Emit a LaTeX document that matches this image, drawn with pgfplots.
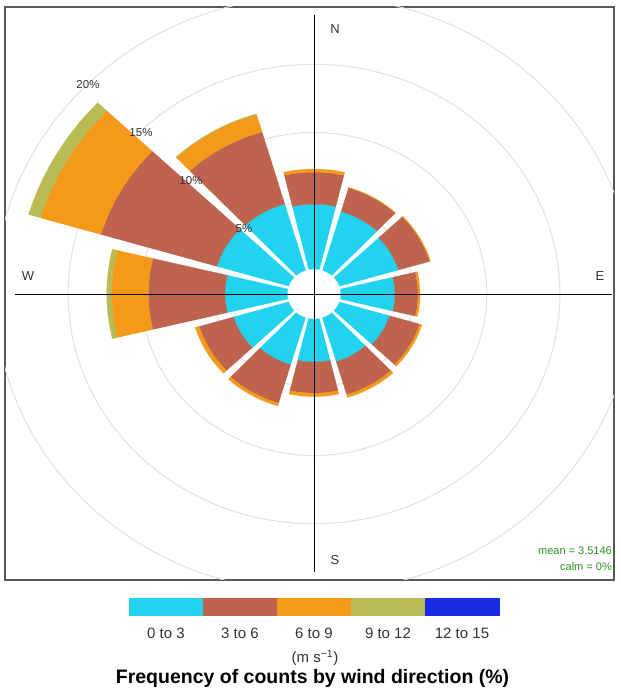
\documentclass[border=0pt]{standalone}
\usepackage{pgfplots}
\pgfplotsset{compat=1.18}
\usepackage{pgfplotstable}
\usepackage{fontspec}
\setmainfont{Liberation Sans}

\definecolor{c1}{HTML}{21D3EE}
\definecolor{c2}{HTML}{BD634E}
\definecolor{c3}{HTML}{F5991B}
\definecolor{c4}{HTML}{B9BC54}
\definecolor{c5}{HTML}{1A2DE6}
\definecolor{gtxt}{HTML}{333333}
\definecolor{meancol}{HTML}{2E8B22}

% arc template: t = relative angle (-1..1), s = 1 outer arc, 0 inner arc
\pgfplotstableread{
t s
-1 1
-0.8 1
-0.6 1
-0.4 1
-0.2 1
0 1
0.2 1
0.4 1
0.6 1
0.8 1
1 1
1 0
0.6 0
0.2 0
-0.2 0
-0.6 0
-1 0
}\arcpts

\def\off{1.83}% central hole (in % units)
\def\hw{13.6}% half angular width of a wedge
\def\gp{0.06}% half width of the straight gap

\newcommand{\windwedge}[4]{%
 \addplot[fill=#4, draw=#4, line width=0.2pt, forget plot] table[
   x expr={(\off+#2+\thisrow{s}*(#3-#2))*sin(#1+\thisrow{t}*(\hw-asin(\gp/(\off+#2+\thisrow{s}*(#3-#2)))))},
   y expr={(\off+#2+\thisrow{s}*(#3-#2))*cos(#1+\thisrow{t}*(\hw-asin(\gp/(\off+#2+\thisrow{s}*(#3-#2)))))}
 ] {\arcpts};}

% direction, frequency (%) of 0-3, 3-6, 6-9, 9-12 m/s
\newcommand{\winddir}[5]{%
  \pgfmathsetmacro\cA{#2}%
  \pgfmathsetmacro\cB{#2+#3}%
  \pgfmathsetmacro\cC{#2+#3+#4}%
  \pgfmathsetmacro\cD{#2+#3+#4+#5}%
  \edef\next{\noexpand\windwedge{#1}{0}{\cA}{c1}}\next
  \ifdim #3pt>0pt \edef\next{\noexpand\windwedge{#1}{\cA}{\cB}{c2}}\next\fi
  \ifdim #4pt>0pt \edef\next{\noexpand\windwedge{#1}{\cB}{\cC}{c3}}\next\fi
  \ifdim #5pt>0pt \edef\next{\noexpand\windwedge{#1}{\cC}{\cD}{c4}}\next\fi
}

\begin{document}
\begin{tikzpicture}
\path (0pt,0pt) rectangle (621pt,696pt);
\begin{axis}[
  at={(5pt,116pt)}, anchor=south west,
  width=609pt, height=573pt, scale only axis,
  xmin=-21.15, xmax=20.53, ymin=-20.95, ymax=21.03,
  xtick=\empty, ytick=\empty,
  axis line style={draw=black!65, line width=1.3pt},
  clip=true,
]
% grid circles (5, 10, 15, 20 %)
\draw[black!12, line width=1pt] (axis cs:0,0) ellipse[x radius=99.8pt, y radius=93.2pt];
\draw[black!12, line width=1pt] (axis cs:0,0) ellipse[x radius=172.8pt, y radius=161.5pt];
\draw[black!12, line width=1pt] (axis cs:0,0) ellipse[x radius=245.9pt, y radius=229.7pt];
\draw[black!12, line width=1pt] (axis cs:0,0) ellipse[x radius=318.9pt, y radius=298.0pt];

\winddir{30}{4.50}{1.80}{0.03}{0}
\winddir{60}{4.22}{2.23}{0.05}{0}
\winddir{90}{3.71}{1.58}{0.14}{0}
\winddir{120}{3.59}{2.14}{0.16}{0}
\winddir{150}{3.35}{2.52}{0.21}{0}
\winddir{180}{3.15}{2.29}{0.25}{0}
\winddir{210}{3.60}{2.92}{0.21}{0}
\winddir{240}{3.94}{2.44}{0.28}{0}
\winddir{270}{4.26}{5.25}{2.51}{0.34}
\winddir{300}{5.13}{8.28}{4.31}{0.84}
\winddir{330}{5.08}{5.50}{1.33}{0.04}
\winddir{360}{4.76}{2.35}{0.22}{0}

% cross lines
\addplot[black, line width=0.9pt, forget plot] coordinates {(0,20.42) (0,-20.40)};
\addplot[black, line width=0.9pt, forget plot] coordinates {(-20.45,0) (20.42,0)};
\end{axis}

% compass labels
\begin{scope}[every node/.style={text=gtxt, font=\fontsize{13}{15}\selectfont, inner sep=0pt}]
\node at (335pt,667pt) {N};
\node at (335pt,136pt) {S};
\node at (28pt,420pt) {W};
\node at (600pt,420pt) {E};
\end{scope}
% percent labels
\begin{scope}[every node/.style={text=gtxt, font=\fontsize{11.5}{13}\selectfont, inner sep=0pt}]
\node at (244pt,467pt) {5\%};
\node at (191pt,515pt) {10\%};
\node at (141pt,563pt) {15\%};
\node at (88pt,611pt) {20\%};
\end{scope}
% mean / calm
\node[text=meancol, font=\fontsize{11}{13}\selectfont, anchor=east, inner sep=0pt] at (612pt,145.5pt) {mean = 3.5146};
\node[text=meancol, font=\fontsize{11}{13}\selectfont, anchor=east, inner sep=0pt] at (612pt,129pt) {calm = 0\%};

% colour key
\fill[c1] (129pt,80pt) rectangle (202.7pt,97.7pt);
\fill[c2] (202.7pt,80pt) rectangle (276.7pt,97.7pt);
\fill[c3] (276.7pt,80pt) rectangle (350.7pt,97.7pt);
\fill[c4] (350.7pt,80pt) rectangle (425pt,97.7pt);
\fill[c5] (425pt,80pt) rectangle (500pt,97.7pt);
\begin{scope}[every node/.style={text=gtxt, font=\fontsize{15}{17}\selectfont, inner sep=0pt}]
\node at (166pt,63pt) {0 to 3};
\node at (240pt,63pt) {3 to 6};
\node at (314pt,63pt) {6 to 9};
\node at (388pt,63pt) {9 to 12};
\node at (462pt,63pt) {12 to 15};
\node at (315pt,38pt) {(m s\textsuperscript{−1})};
\end{scope}
\node[font=\bfseries\fontsize{19.5}{22}\selectfont, inner sep=0pt] at (312.5pt,17.5pt) {Frequency of counts by wind direction (\%)};
\end{tikzpicture}
\end{document}
